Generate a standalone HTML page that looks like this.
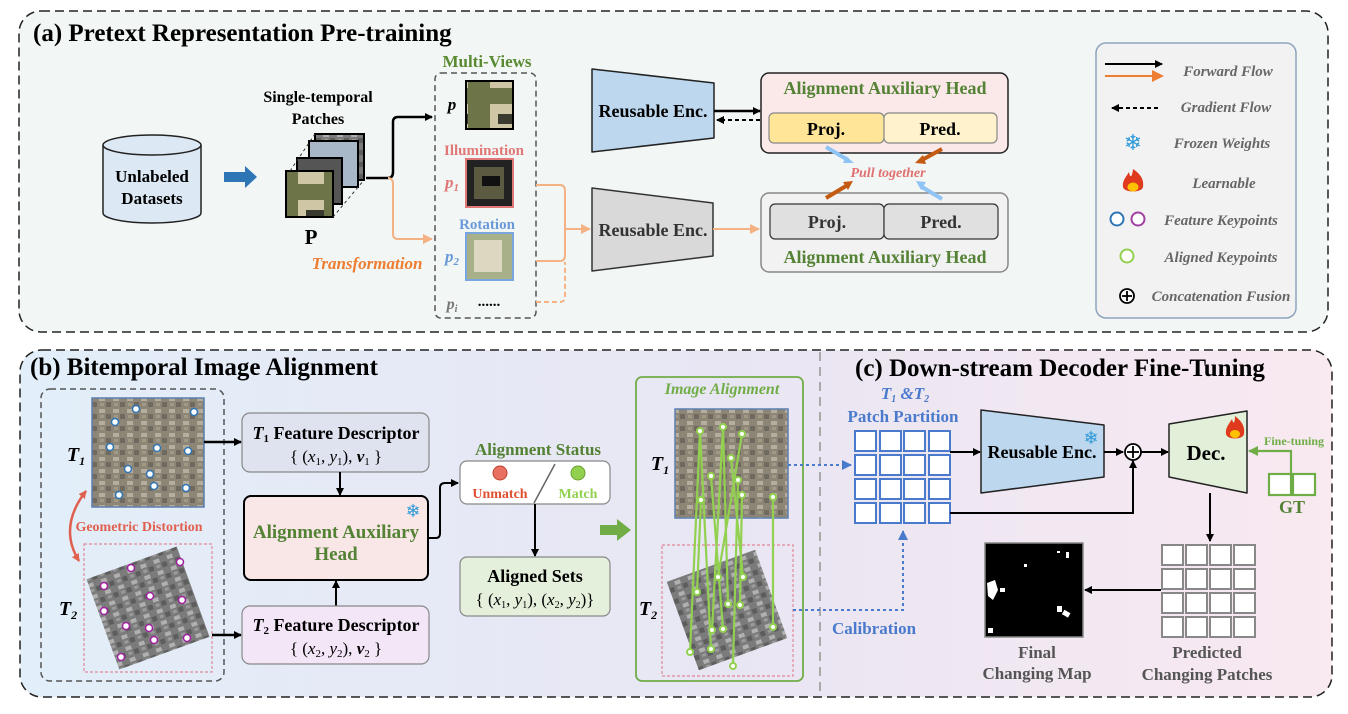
<!DOCTYPE html>
<html><head><meta charset="utf-8"><style>
html,body{margin:0;padding:0;background:#fff;}
svg{display:block;}
text{font-family:"Liberation Serif",serif;font-weight:bold;}
</style></head><body>
<svg width="1348" height="714" viewBox="0 0 1348 714" xmlns="http://www.w3.org/2000/svg">
<defs>
<marker id="ab" markerWidth="8" markerHeight="8" refX="7" refY="4" orient="auto" markerUnits="userSpaceOnUse"><path d="M0,0 L8,4 L0,8 z" fill="#000"/></marker>
<marker id="ao" markerWidth="10" markerHeight="10" refX="9" refY="5" orient="auto" markerUnits="userSpaceOnUse"><path d="M0,0 L10,5 L0,10 z" fill="#f4b183"/></marker>
<marker id="ablue" markerWidth="10" markerHeight="10" refX="9" refY="5" orient="auto" markerUnits="userSpaceOnUse"><path d="M0,0 L10,5 L0,10 z" fill="#4a7acc"/></marker>
<marker id="agr" markerWidth="10" markerHeight="10" refX="9" refY="5" orient="auto" markerUnits="userSpaceOnUse"><path d="M0,0 L10,5 L0,10 z" fill="#70ad47"/></marker>
<marker id="aor" markerWidth="12" markerHeight="12" refX="10" refY="6" orient="auto" markerUnits="userSpaceOnUse"><path d="M0,0 L12,6 L0,12 z" fill="#ed7d31"/></marker>
<marker id="ared" markerWidth="8" markerHeight="8" refX="7" refY="4" orient="auto-start-reverse" markerUnits="userSpaceOnUse"><path d="M0,0 L8,4 L0,8 z" fill="#e06050"/></marker>
<linearGradient id="bg2" x1="0" x2="1" y1="0" y2="0"><stop offset="0" stop-color="#e2eef9"/><stop offset="0.55" stop-color="#e9e6f3"/><stop offset="1" stop-color="#f9e9f1"/></linearGradient>
<pattern id="sat1" width="14" height="12" patternUnits="userSpaceOnUse"><rect width="14" height="12" fill="#8d8676"/><rect x="1" y="1" width="6" height="4" fill="#b5ae9f"/><rect x="8" y="6" width="5" height="5" fill="#6f6a5f"/><rect x="2" y="7" width="4" height="3" fill="#a09986"/></pattern>
<pattern id="sat2" width="14" height="12" patternUnits="userSpaceOnUse"><rect width="14" height="12" fill="#7b7b7b"/><rect x="1" y="1" width="6" height="4" fill="#b0b0b0"/><rect x="8" y="6" width="5" height="5" fill="#5d5d5d"/><rect x="2" y="7" width="4" height="3" fill="#9a9a9a"/></pattern>
<pattern id="bld" width="48" height="48" patternUnits="userSpaceOnUse"><rect width="48" height="48" fill="#6d7448"/><rect x="10" y="8" width="26" height="32" fill="#cfc6a6"/><rect x="18" y="18" width="18" height="10" fill="#3b3a2e"/></pattern>
</defs>

<!-- Panel (a) -->
<rect x="19" y="11" width="1309" height="321" rx="22" fill="#f2f7f5" stroke="#222" stroke-width="1.5" stroke-dasharray="9,5"/>
<text x="33" y="41" font-size="25">(a) Pretext Representation Pre-training</text>

<path d="M103,145 L103,213 A49,10 0 0 0 201,213 L201,145" fill="#dde8f5" stroke="#222" stroke-width="1.5"/>
<ellipse cx="152" cy="145" rx="49" ry="10" fill="#dde8f5" stroke="#222" stroke-width="1.5"/>
<text x="152" y="182" font-size="17" text-anchor="middle">Unlabeled</text>
<text x="152" y="204" font-size="17" text-anchor="middle">Datasets</text>
<path d="M224,172 L245,172 L245,166 L257,177 L245,188 L245,182 L224,182 z" fill="#2e75b6"/>

<text x="318" y="102" font-size="16" text-anchor="middle">Single-temporal</text>
<text x="318" y="124" font-size="16" text-anchor="middle">Patches</text>
<rect x="315" y="134" width="49" height="46" fill="url(#sat2)" stroke="#000" stroke-width="2"/>
<rect x="309" y="141" width="49" height="46" fill="#a8b8c8" stroke="#000" stroke-width="2"/>
<rect x="297" y="158" width="45" height="46" fill="#555" stroke="#000" stroke-width="2"/>
<rect x="286" y="171" width="47" height="46" fill="url(#bld)" stroke="#000" stroke-width="2"/>
<line x1="290" y1="171" x2="315" y2="134" stroke="#333" stroke-dasharray="3,3"/>
<line x1="333" y1="217" x2="364" y2="180" stroke="#333" stroke-dasharray="3,3"/>
<text x="311" y="244" font-size="21" text-anchor="middle">P</text>
<text x="367" y="269" font-size="17" font-style="italic" fill="#ed7d31" text-anchor="middle">Transformation</text>
<path d="M366,178 L388,178 Q393,178 393,172 L393,122 Q393,117 398,117 L432,117" fill="none" stroke="#000" stroke-width="2.5" marker-end="url(#ab)"/>
<path d="M388,178 Q393,178 393,184 L393,234 Q393,239 398,239 L432,239" fill="none" stroke="#f4b183" stroke-width="2" marker-end="url(#ao)"/>

<text x="487" y="67" font-size="17" fill="#5a8a30" text-anchor="middle">Multi-Views</text>
<rect x="435" y="73" width="101" height="245" rx="6" fill="none" stroke="#555" stroke-width="1.5" stroke-dasharray="6,4"/>
<text x="452" y="110" font-size="17" font-style="italic" text-anchor="middle">p</text>
<rect x="466" y="81" width="47" height="48" fill="url(#bld)" stroke="#000" stroke-width="2"/>
<text x="484" y="155" font-size="15" fill="#e07878" text-anchor="middle">Illumination</text>
<text x="452" y="188" font-size="17" font-style="italic" fill="#e07878" text-anchor="middle">p<tspan font-size="11" dy="3">1</tspan></text>
<rect x="466" y="159" width="47" height="48" fill="#222" stroke="#e07878" stroke-width="2"/>
<rect x="474" y="167" width="30" height="32" fill="#5c5a40"/><rect x="482" y="176" width="18" height="10" fill="#111"/>
<text x="487" y="229" font-size="15" fill="#6a9ad8" text-anchor="middle">Rotation</text>
<text x="452" y="262" font-size="17" font-style="italic" fill="#6a9ad8" text-anchor="middle">p<tspan font-size="11" dy="3">2</tspan></text>
<rect x="466" y="233" width="47" height="47" fill="#a8b08a" stroke="#7aa6e0" stroke-width="2"/>
<rect x="474" y="240" width="28" height="32" fill="#ddd6c0"/>
<text x="452" y="309" font-size="16" font-style="italic" fill="#777" text-anchor="middle">p<tspan font-size="10" dy="3">i</tspan></text>
<text x="489" y="306" font-size="15" text-anchor="middle">......</text>

<path d="M536,185 L560,185 Q565,185 565,191 L565,229 M536,261 L560,261 Q565,261 565,255 L565,229 L590,229" fill="none" stroke="#f4b183" stroke-width="2" marker-end="url(#ao)"/>
<path d="M536,302 L560,302 Q565,302 565,296 L565,262" fill="none" stroke="#f4b183" stroke-width="2" stroke-dasharray="5,3"/>

<path d="M592,69 L714,83 L714,138 L592,152 z" fill="#bdd7ee" stroke="#222" stroke-width="1.5" stroke-linejoin="round"/>
<text x="653" y="117" font-size="18" text-anchor="middle">Reusable Enc.</text>
<path d="M592,188 L713,203 L713,256 L592,271 z" fill="#d9d9d9" stroke="#333" stroke-width="1.5" stroke-linejoin="round"/>
<text x="653" y="236" font-size="18" fill="#333" text-anchor="middle">Reusable Enc.</text>
<line x1="714" y1="111" x2="760" y2="111" stroke="#000" stroke-width="2.5" marker-end="url(#ab)"/>
<line x1="760" y1="120" x2="717" y2="120" stroke="#000" stroke-width="2" stroke-dasharray="4,3" marker-end="url(#ab)"/>
<line x1="713" y1="229" x2="759" y2="229" stroke="#f4b183" stroke-width="2" marker-end="url(#ao)"/>

<rect x="761" y="73" width="247" height="80" rx="8" fill="#fbe9ea" stroke="#222" stroke-width="1.5"/>
<text x="885" y="94" font-size="18" fill="#548235" text-anchor="middle">Alignment Auxiliary Head</text>
<rect x="769" y="113" width="115" height="30" rx="5" fill="#ffe598" stroke="#888" stroke-width="1.2"/>
<rect x="884" y="113" width="113" height="30" rx="5" fill="#fff2cc" stroke="#888" stroke-width="1.2"/>
<text x="826" y="135" font-size="18" text-anchor="middle">Proj.</text>
<text x="940" y="135" font-size="18" text-anchor="middle">Pred.</text>
<rect x="761" y="193" width="247" height="79" rx="8" fill="#f2f2f2" stroke="#888" stroke-width="1.5"/>
<rect x="770" y="204" width="114" height="35" rx="5" fill="#e0e0e0" stroke="#333" stroke-width="1.2"/>
<rect x="884" y="204" width="114" height="35" rx="5" fill="#e0e0e0" stroke="#333" stroke-width="1.2"/>
<text x="827" y="228" font-size="18" fill="#333" text-anchor="middle">Proj.</text>
<text x="941" y="228" font-size="18" fill="#333" text-anchor="middle">Pred.</text>
<text x="885" y="263" font-size="18" fill="#548235" text-anchor="middle">Alignment Auxiliary Head</text>
<text x="888" y="177" font-size="14" font-style="italic" fill="#e07070" text-anchor="middle">Pull together</text>
<line x1="826" y1="147" x2="848" y2="160" stroke="#8fc4f5" stroke-width="4"/>
<path d="M846,156 L854,163 L843,163 z" fill="#8fc4f5"/>
<line x1="942" y1="149" x2="922" y2="160" stroke="#c55a11" stroke-width="4"/>
<path d="M923,155 L915,163 L926,164 z" fill="#c55a11"/>
<line x1="826" y1="198" x2="846" y2="186" stroke="#c55a11" stroke-width="4"/>
<path d="M843,182 L853,181 L848,190 z" fill="#c55a11"/>
<line x1="942" y1="199" x2="922" y2="187" stroke="#8fc4f5" stroke-width="4"/>
<path d="M926,182 L916,181 L921,190 z" fill="#8fc4f5"/>

<!-- legend -->
<rect x="1096" y="43" width="200" height="275" rx="10" fill="#f2f2f2" stroke="#8ea4bc" stroke-width="1.5"/>
<line x1="1105" y1="64" x2="1162" y2="64" stroke="#000" stroke-width="2" marker-end="url(#ab)"/>
<line x1="1105" y1="76" x2="1162" y2="76" stroke="#ed7d31" stroke-width="2" marker-end="url(#aor)"/>
<line x1="1158" y1="108" x2="1112" y2="108" stroke="#000" stroke-width="2" stroke-dasharray="4,3" marker-end="url(#ab)"/>
<text x="1133" y="150" font-size="22" fill="#2e9ad8" text-anchor="middle" style="font-family:'DejaVu Sans',sans-serif">❄</text>
<path d="M1133,169 C1142,175 1144,181 1143,187 C1142,193 1124,193 1123,187 C1122,181 1126,177 1129,172 C1130,178 1132,178 1133,169z" fill="#e03a1e"/>
<ellipse cx="1133" cy="187" rx="5.5" ry="4.5" fill="#ffc000"/>
<circle cx="1117" cy="219" r="6.5" fill="#fff" stroke="#2e75b6" stroke-width="2"/>
<circle cx="1138" cy="219" r="6.5" fill="#fff" stroke="#a040a0" stroke-width="2"/>
<circle cx="1127" cy="256" r="6.5" fill="#fff" stroke="#92d050" stroke-width="2"/>
<circle cx="1127" cy="296" r="7" fill="#fff" stroke="#000" stroke-width="1.8"/>
<line x1="1122" y1="296" x2="1132" y2="296" stroke="#000" stroke-width="1.8"/><line x1="1127" y1="291" x2="1127" y2="301" stroke="#000" stroke-width="1.8"/>
<g font-size="15" font-style="italic" fill="#666" text-anchor="middle">
<text x="1228" y="76">Forward Flow</text>
<text x="1226" y="112">Gradient Flow</text>
<text x="1222" y="148">Frozen Weights</text>
<text x="1224" y="188">Learnable</text>
<text x="1221" y="225">Feature Keypoints</text>
<text x="1221" y="262">Aligned Keypoints</text>
<text x="1221" y="301">Concatenation Fusion</text>
</g>

<!-- Panel (b)+(c) -->
<rect x="20" y="350" width="1312" height="347" rx="22" fill="url(#bg2)" stroke="#222" stroke-width="1.5" stroke-dasharray="9,5"/>
<line x1="820" y1="352" x2="820" y2="696" stroke="#aaa" stroke-width="2" stroke-dasharray="9,6"/>
<text x="30" y="375" font-size="25">(b) Bitemporal Image Alignment</text>
<text x="855" y="376" font-size="25">(c) Down-stream Decoder Fine-Tuning</text>

<rect x="41" y="389" width="183" height="292" rx="9" fill="none" stroke="#555" stroke-width="1.5" stroke-dasharray="6,4"/>
<rect x="92" y="398" width="112" height="109" fill="url(#sat1)" stroke="#5b7fb0" stroke-width="1.5"/>
<g fill="#fff" stroke="#2e75b6" stroke-width="1.5">
<circle cx="136" cy="409" r="3.5"/><circle cx="194" cy="412" r="3.5"/><circle cx="115" cy="422" r="3.5"/><circle cx="110" cy="447" r="3.5"/><circle cx="157" cy="448" r="3.5"/><circle cx="188" cy="451" r="3.5"/><circle cx="128" cy="469" r="3.5"/><circle cx="150" cy="474" r="3.5"/><circle cx="154" cy="486" r="3.5"/><circle cx="186" cy="488" r="3.5"/><circle cx="119" cy="495" r="3.5"/></g>
<text x="76" y="461" font-size="20" font-style="italic" text-anchor="middle">T<tspan font-size="12" dy="4">1</tspan></text>
<rect x="84" y="544" width="128" height="128" fill="none" stroke="#e08898" stroke-width="1.2" stroke-dasharray="3,2"/>
<g transform="rotate(-20 148 608)"><rect x="100" y="560" width="96" height="96" fill="url(#sat2)"/></g>
<g fill="#fff" stroke="#a020a0" stroke-width="1.5">
<circle cx="131" cy="568" r="3.5"/><circle cx="180" cy="562" r="3.5"/><circle cx="104" cy="586" r="3.5"/><circle cx="150" cy="596" r="3.5"/><circle cx="182" cy="600" r="3.5"/><circle cx="104" cy="611" r="3.5"/><circle cx="126" cy="626" r="3.5"/><circle cx="149" cy="628" r="3.5"/><circle cx="154" cy="640" r="3.5"/><circle cx="187" cy="638" r="3.5"/><circle cx="121" cy="657" r="3.5"/></g>
<text x="68" y="615" font-size="20" font-style="italic" text-anchor="middle">T<tspan font-size="12" dy="4">2</tspan></text>
<path d="M86,491 Q58,527 79,561" fill="none" stroke="#e06050" stroke-width="2.5" marker-start="url(#ared)" marker-end="url(#ared)"/>
<text x="139" y="531" font-size="14" fill="#e06050" text-anchor="middle">Geometric Distortion</text>

<line x1="204" y1="442" x2="241" y2="442" stroke="#000" stroke-width="2.5" marker-end="url(#ab)"/>
<line x1="212" y1="635" x2="241" y2="635" stroke="#000" stroke-width="2.5" marker-end="url(#ab)"/>
<rect x="242" y="413" width="187" height="59" rx="8" fill="#dfe3f0" stroke="#888" stroke-width="1.2"/>
<text x="336" y="439" font-size="18" text-anchor="middle"><tspan font-style="italic">T</tspan><tspan font-size="11" dy="3">1</tspan><tspan dy="-3"> Feature Descriptor</tspan></text>
<text x="336" y="462" font-size="17" text-anchor="middle" style="font-weight:normal">{ (<tspan font-style="italic">x</tspan><tspan font-size="11" dy="3">1</tspan><tspan dy="-3">, </tspan><tspan font-style="italic">y</tspan><tspan font-size="11" dy="3">1</tspan><tspan dy="-3">), </tspan><tspan font-style="italic" font-weight="bold">v</tspan><tspan font-size="11" dy="3">1</tspan><tspan dy="-3"> }</tspan></text>
<line x1="340" y1="472" x2="340" y2="495" stroke="#000" stroke-width="2" marker-end="url(#ab)"/>
<rect x="244" y="496" width="184" height="84" rx="7" fill="#f9e6e6" stroke="#000" stroke-width="2"/>
<text x="336" y="538" font-size="19" fill="#548235" text-anchor="middle">Alignment Auxiliary</text>
<text x="336" y="560" font-size="19" fill="#548235" text-anchor="middle">Head</text>
<text x="413" y="517" font-size="18" fill="#2e9ad8" text-anchor="middle" style="font-family:'DejaVu Sans',sans-serif">❄</text>
<line x1="336" y1="606" x2="336" y2="581" stroke="#000" stroke-width="2" marker-end="url(#ab)"/>
<rect x="242" y="606" width="187" height="58" rx="8" fill="#f3e6f6" stroke="#888" stroke-width="1.2"/>
<text x="336" y="631" font-size="18" text-anchor="middle"><tspan font-style="italic">T</tspan><tspan font-size="11" dy="3">2</tspan><tspan dy="-3"> Feature Descriptor</tspan></text>
<text x="336" y="654" font-size="17" text-anchor="middle" style="font-weight:normal">{ (<tspan font-style="italic">x</tspan><tspan font-size="11" dy="3">2</tspan><tspan dy="-3">, </tspan><tspan font-style="italic">y</tspan><tspan font-size="11" dy="3">2</tspan><tspan dy="-3">), </tspan><tspan font-style="italic" font-weight="bold">v</tspan><tspan font-size="11" dy="3">2</tspan><tspan dy="-3"> }</tspan></text>

<path d="M428,538 L436,538 Q440,538 440,533 L440,488 Q440,483 445,483 L458,483" fill="none" stroke="#000" stroke-width="2" marker-end="url(#ab)"/>
<text x="538" y="455" font-size="17" fill="#548235" text-anchor="middle">Alignment Status</text>
<rect x="460" y="461" width="150" height="43" rx="7" fill="#fff" stroke="#888" stroke-width="1.2"/>
<circle cx="500" cy="473" r="7" fill="#e87060" stroke="#c04030"/>
<text x="500" y="498" font-size="14" fill="#e05030" text-anchor="middle">Unmatch</text>
<circle cx="578" cy="473" r="7" fill="#92d050" stroke="#6aa030"/>
<text x="578" y="498" font-size="14" fill="#92d050" text-anchor="middle">Match</text>
<line x1="555" y1="464" x2="534" y2="503" stroke="#666" stroke-width="1.5"/>
<line x1="535" y1="504" x2="535" y2="556" stroke="#000" stroke-width="2" marker-end="url(#ab)"/>
<rect x="460" y="557" width="150" height="59" rx="7" fill="#e4f0dc" stroke="#888" stroke-width="1.2"/>
<text x="535" y="582" font-size="18" text-anchor="middle">Aligned Sets</text>
<text x="535" y="605" font-size="17" text-anchor="middle" style="font-weight:normal">{ (<tspan font-style="italic">x</tspan><tspan font-size="10" dy="3">1</tspan><tspan dy="-3">, </tspan><tspan font-style="italic">y</tspan><tspan font-size="10" dy="3">1</tspan><tspan dy="-3">), (</tspan><tspan font-style="italic">x</tspan><tspan font-size="10" dy="3">2</tspan><tspan dy="-3">, </tspan><tspan font-style="italic">y</tspan><tspan font-size="10" dy="3">2</tspan><tspan dy="-3">)}</tspan></text>
<path d="M600,525 L617,525 L617,519 L631,530 L617,541 L617,535 L600,535 z" fill="#70ad47"/>

<rect x="636" y="377" width="167" height="304" rx="6" fill="none" stroke="#70ad47" stroke-width="1.8"/>
<text x="722" y="394" font-size="16" font-style="italic" fill="#70ad47" text-anchor="middle">Image Alignment</text>
<rect x="675" y="409" width="113" height="109" fill="url(#sat1)" stroke="#5b7fb0" stroke-width="1.5"/>
<text x="660" y="470" font-size="20" font-style="italic" text-anchor="middle">T<tspan font-size="12" dy="4">1</tspan></text>
<rect x="662" y="545" width="131" height="131" fill="none" stroke="#e08898" stroke-width="1.2" stroke-dasharray="3,2"/>
<g transform="rotate(-20 727 610)"><rect x="680" y="563" width="94" height="94" fill="url(#sat2)"/></g>
<text x="648" y="615" font-size="20" font-style="italic" text-anchor="middle">T<tspan font-size="12" dy="4">2</tspan></text>
<g stroke="#92d050" stroke-width="2.2" fill="none">
<line x1="700" y1="431" x2="690" y2="652"/><line x1="723" y1="427" x2="712" y2="630"/><line x1="742" y1="434" x2="718" y2="577"/><line x1="731" y1="458" x2="743" y2="577"/><line x1="711" y1="476" x2="723" y2="629"/><line x1="742" y1="495" x2="740" y2="605"/><line x1="701" y1="500" x2="697" y2="592"/><line x1="773" y1="497" x2="773" y2="627"/><line x1="738" y1="480" x2="733" y2="666"/><line x1="700" y1="431" x2="711" y2="649"/><line x1="723" y1="427" x2="728" y2="604"/></g>
<g fill="#fff" stroke="#92d050" stroke-width="2">
<circle cx="700" cy="431" r="3"/><circle cx="723" cy="427" r="3"/><circle cx="742" cy="434" r="3"/><circle cx="731" cy="458" r="3"/><circle cx="711" cy="476" r="3"/><circle cx="742" cy="495" r="3"/><circle cx="701" cy="500" r="3"/><circle cx="773" cy="497" r="3"/><circle cx="738" cy="480" r="3"/>
<circle cx="690" cy="652" r="3"/><circle cx="712" cy="630" r="3"/><circle cx="718" cy="577" r="3"/><circle cx="743" cy="577" r="3"/><circle cx="723" cy="629" r="3"/><circle cx="740" cy="605" r="3"/><circle cx="697" cy="592" r="3"/><circle cx="773" cy="627" r="3"/><circle cx="733" cy="666" r="3"/><circle cx="711" cy="649" r="3"/><circle cx="728" cy="604" r="3"/></g>

<!-- (c) -->
<line x1="788" y1="465" x2="851" y2="465" stroke="#4a7acc" stroke-width="2" stroke-dasharray="3,3" marker-end="url(#ablue)"/>
<path d="M793,610 L903,610 L903,531" fill="none" stroke="#4a7acc" stroke-width="2" stroke-dasharray="3,3" marker-end="url(#ablue)"/>
<text x="874" y="634" font-size="17" fill="#4a7acc" text-anchor="middle">Calibration</text>
<text x="905" y="399" font-size="17" font-style="italic" fill="#4a7acc" text-anchor="middle">T<tspan font-size="10" dy="3">1</tspan><tspan dy="-3"> &amp;T</tspan><tspan font-size="10" dy="3">2</tspan></text>
<text x="903" y="422" font-size="17" fill="#4a7acc" text-anchor="middle">Patch Partition</text>
<g fill="#fff" stroke="#4a7acc" stroke-width="2">
<rect x="855" y="431" width="21" height="20"/><rect x="880" y="431" width="21" height="20"/><rect x="904" y="431" width="21" height="20"/><rect x="929" y="431" width="21" height="20"/>
<rect x="855" y="455" width="21" height="20"/><rect x="880" y="455" width="21" height="20"/><rect x="904" y="455" width="21" height="20"/><rect x="929" y="455" width="21" height="20"/>
<rect x="855" y="479" width="21" height="20"/><rect x="880" y="479" width="21" height="20"/><rect x="904" y="479" width="21" height="20"/><rect x="929" y="479" width="21" height="20"/>
<rect x="855" y="503" width="21" height="20"/><rect x="880" y="503" width="21" height="20"/><rect x="904" y="503" width="21" height="20"/><rect x="929" y="503" width="21" height="20"/></g>
<line x1="950" y1="452" x2="980" y2="452" stroke="#000" stroke-width="2" marker-end="url(#ab)"/>
<path d="M981,410 L1104,425 L1104,477 L981,493 z" fill="#bdd7ee" stroke="#222" stroke-width="1.5" stroke-linejoin="round"/>
<text x="1042" y="458" font-size="18" text-anchor="middle">Reusable Enc.</text>
<text x="1091" y="444" font-size="18" fill="#2e9ad8" text-anchor="middle" style="font-family:'DejaVu Sans',sans-serif">❄</text>
<line x1="1104" y1="452" x2="1123" y2="452" stroke="#000" stroke-width="2" marker-end="url(#ab)"/>
<circle cx="1133" cy="452" r="8" fill="#fff" stroke="#000" stroke-width="1.8"/>
<line x1="1127" y1="452" x2="1139" y2="452" stroke="#000" stroke-width="1.8"/><line x1="1133" y1="446" x2="1133" y2="458" stroke="#000" stroke-width="1.8"/>
<path d="M950,513 L1133,513 L1133,461" fill="none" stroke="#000" stroke-width="2" marker-end="url(#ab)"/>
<line x1="1141" y1="452" x2="1168" y2="452" stroke="#000" stroke-width="2" marker-end="url(#ab)"/>
<path d="M1169,424 L1247,411 L1247,493 L1169,477 z" fill="#e2f0d9" stroke="#222" stroke-width="1.5" stroke-linejoin="round"/>
<text x="1206" y="460" font-size="21" text-anchor="middle">Dec.</text>
<path d="M1235,416 C1243,422 1245,428 1244,434 C1243,440 1227,440 1226,434 C1225,428 1229,424 1232,419 C1233,424 1235,424 1235,416z" fill="#e03a1e"/>
<ellipse cx="1235" cy="434" rx="5" ry="4" fill="#ffc000"/>
<path d="M1291,474 L1291,451 L1249,451" fill="none" stroke="#70ad47" stroke-width="2.2" marker-end="url(#agr)"/>
<text x="1294" y="445" font-size="12" fill="#70ad47" text-anchor="middle">Fine-tuning</text>
<rect x="1269" y="474" width="22" height="21" fill="#fff" stroke="#70ad47" stroke-width="2.2"/>
<rect x="1293" y="474" width="22" height="21" fill="#fff" stroke="#70ad47" stroke-width="2.2"/>
<text x="1292" y="513" font-size="18" fill="#548235" text-anchor="middle">GT</text>
<line x1="1210" y1="493" x2="1210" y2="541" stroke="#000" stroke-width="2" marker-end="url(#ab)"/>
<g fill="#fff" stroke="#888" stroke-width="2">
<rect x="1162" y="545" width="21" height="20"/><rect x="1186" y="545" width="21" height="20"/><rect x="1210" y="545" width="21" height="20"/><rect x="1234" y="545" width="21" height="20"/>
<rect x="1162" y="569" width="21" height="20"/><rect x="1186" y="569" width="21" height="20"/><rect x="1210" y="569" width="21" height="20"/><rect x="1234" y="569" width="21" height="20"/>
<rect x="1162" y="593" width="21" height="20"/><rect x="1186" y="593" width="21" height="20"/><rect x="1210" y="593" width="21" height="20"/><rect x="1234" y="593" width="21" height="20"/>
<rect x="1162" y="617" width="21" height="20"/><rect x="1186" y="617" width="21" height="20"/><rect x="1210" y="617" width="21" height="20"/><rect x="1234" y="617" width="21" height="20"/></g>
<line x1="1161" y1="590" x2="1085" y2="590" stroke="#000" stroke-width="2" marker-end="url(#ab)"/>
<rect x="985" y="543" width="98" height="94" fill="#000" stroke="#888" stroke-width="1.5"/>
<g fill="#fff"><path d="M987,583 L995,580 L998,590 L993,600 L988,596z"/><rect x="1000" y="588" width="5" height="4"/><rect x="1066" y="552" width="3" height="6"/><rect x="1057" y="606" width="5" height="6"/><rect x="1063" y="611" width="7" height="5" transform="rotate(30 1066 613)"/><rect x="988" y="628" width="5" height="5"/><rect x="1024" y="564" width="3" height="3"/><rect x="1057" y="551" width="3" height="2"/></g>
<g font-size="17" fill="#555" text-anchor="middle">
<text x="1037" y="658">Final</text><text x="1037" y="679">Changing Map</text>
<text x="1207" y="658">Predicted</text><text x="1207" y="680">Changing Patches</text></g>
</svg>
</body></html>
